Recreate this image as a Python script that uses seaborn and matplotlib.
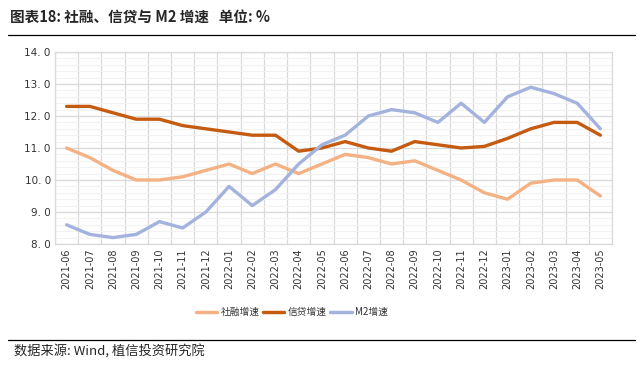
import pandas as pd
import matplotlib.pyplot as plt
import seaborn as sns
from matplotlib.ticker import MultipleLocator

months = ["2021-06", "2021-07", "2021-08", "2021-09", "2021-10", "2021-11", "2021-12",
          "2022-01", "2022-02", "2022-03", "2022-04", "2022-05", "2022-06", "2022-07",
          "2022-08", "2022-09", "2022-10", "2022-11", "2022-12", "2023-01", "2023-02",
          "2023-03", "2023-04", "2023-05"]
shrong = [11.0, 10.7, 10.3, 10.0, 10.0, 10.1, 10.3, 10.5, 10.2, 10.5, 10.2, 10.5,
          10.8, 10.7, 10.5, 10.6, 10.3, 10.0, 9.6, 9.4, 9.9, 10.0, 10.0, 9.5]
xindai = [12.3, 12.3, 12.1, 11.9, 11.9, 11.7, 11.6, 11.5, 11.4, 11.4, 10.9, 11.0,
          11.2, 11.0, 10.9, 11.2, 11.1, 11.0, 11.05, 11.3, 11.6, 11.8, 11.8, 11.4]
m2 = [8.6, 8.3, 8.2, 8.3, 8.7, 8.5, 9.0, 9.8, 9.2, 9.7, 10.5, 11.1,
      11.4, 12.0, 12.2, 12.1, 11.8, 12.4, 11.8, 12.6, 12.9, 12.7, 12.4, 11.6]
series_names = ["社融增速", "信贷增速", "M2增速"]
colors = ["#F4B183", "#C55A11", "#A3B3DD"]

df = pd.DataFrame({"month": months, series_names[0]: shrong,
                   series_names[1]: xindai, series_names[2]: m2})
df["x"] = range(len(months))
long_df = df.melt(id_vars=["month", "x"], var_name="series", value_name="value")

sns.set_style("white")
plt.rcParams["font.family"] = ["Noto Sans CJK SC", "DejaVu Sans"]

fig = plt.figure(figsize=(6.43, 3.69), dpi=100)
ax = fig.add_axes([55 / 643, 1 - 244 / 369, 557 / 643, 192 / 369])

sns.lineplot(data=long_df, x="x", y="value", hue="series", hue_order=series_names,
             palette=colors, linewidth=2.4, ax=ax, legend=False)

ax.set_xlim(-0.5, len(months) - 0.5)
ax.set_ylim(8.0, 14.0)
ax.yaxis.set_minor_locator(MultipleLocator(0.2))
ax.set_yticks([8, 9, 10, 11, 12, 13, 14])
ax.set_yticklabels([f"{v:.1f}".replace(".", ". ") for v in range(8, 15)], fontsize=7.5,
                   color="#333333", family="DejaVu Sans")
ax.set_xticks(range(len(months)))
ax.set_xticklabels(months, rotation=90, fontsize=7, color="#333333", family="DejaVu Sans")
ax.set_xticks([i - 0.5 for i in range(len(months) + 1)], minor=True)
ax.tick_params(axis="both", which="both", length=0, pad=3)
ax.grid(True, which="major", axis="y", color="#D9D9D9", linewidth=0.9)
ax.grid(True, which="minor", axis="y", color="#F2F2F2", linewidth=0.8)
ax.grid(True, which="minor", axis="x", color="#D9D9D9", linewidth=0.9)
ax.set_axisbelow(True)
for s in ax.spines.values():
    s.set_color("#D9D9D9")
    s.set_linewidth(0.9)
ax.set_xlabel("")
ax.set_ylabel("")

# legend
handles = [plt.Line2D([0], [0], color=c, linewidth=2.5) for c in colors]
fig.legend(handles, series_names, loc="center", bbox_to_anchor=(292 / 643, 1 - 312 / 369),
           ncol=3, frameon=False, fontsize=7, handlelength=2.2, columnspacing=0.3,
           handletextpad=0.4, labelcolor="#333333")

# title and footer
fig.text(10 / 643, 1 - 18 / 369, "图表18: 社融、信贷与 M2 增速   单位: %", fontsize=10.5,
         fontweight="bold", va="center", ha="left")
fig.add_artist(plt.Line2D([8 / 643, 635 / 643], [1 - 35 / 369, 1 - 35 / 369],
                          color="black", linewidth=0.9))
fig.add_artist(plt.Line2D([8 / 643, 635 / 643], [1 - 340 / 369, 1 - 340 / 369],
                          color="black", linewidth=0.9))
fig.text(14 / 643, 1 - 352 / 369, "数据来源: Wind, 植信投资研究院", fontsize=9.5,
         va="center", ha="left")

fig.savefig("out.png", dpi=100)
